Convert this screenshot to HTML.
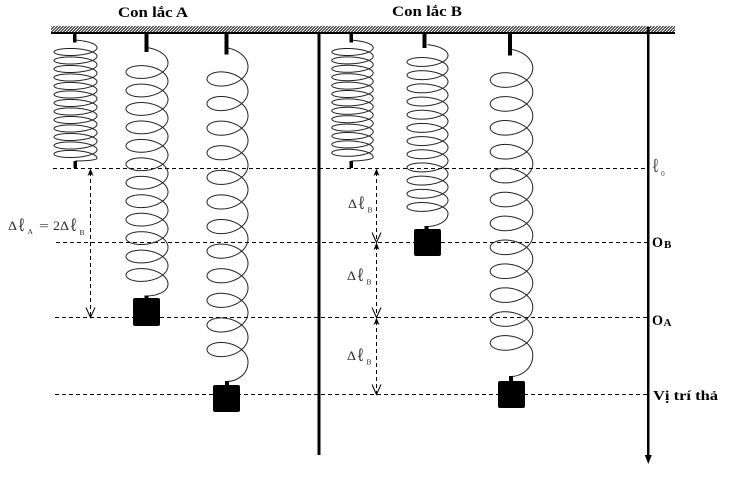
<!DOCTYPE html>
<html><head><meta charset="utf-8"><style>
html,body{margin:0;padding:0;background:#fff;}
svg{display:block;}
text{font-family:"Liberation Serif","DejaVu Serif",serif;}
</style></head><body>
<svg id="s" width="734" height="477" viewBox="0 0 734 477" xmlns="http://www.w3.org/2000/svg">
<defs><clipPath id="hc"><rect x="51" y="26" width="624" height="6.5"/></clipPath></defs>
<rect width="734" height="477" fill="#fff"/>
<!-- ceiling -->
<g id="hatch" stroke="#000" stroke-width="0.9" clip-path="url(#hc)"></g>
<rect x="51" y="32" width="624" height="2" fill="#000"/>

<!-- titles -->
<text x="118" y="17" font-size="15" font-weight="bold" textLength="70" lengthAdjust="spacingAndGlyphs">Con lắc A</text>
<text x="392" y="16" font-size="15" font-weight="bold" textLength="70" lengthAdjust="spacingAndGlyphs">Con lắc B</text>

<!-- center divider and axis -->
<rect x="317.5" y="33" width="3" height="422" fill="#000"/>
<rect x="647" y="27" width="2.5" height="430" fill="#000"/>
<path d="M648.3 464 L644.8 455 L651.8 455 Z" fill="#000"/>

<!-- dashed levels -->
<g stroke="#000" stroke-width="1" stroke-dasharray="4 3" fill="none">
<line x1="53" y1="168.5" x2="647" y2="168.5"/>
<line x1="56" y1="242.5" x2="647" y2="242.5"/>
<line x1="55" y1="317.5" x2="647" y2="317.5"/>
<line x1="55" y1="394.5" x2="647" y2="394.5"/>
<!-- dimension lines -->
<line x1="90.5" y1="172" x2="90.5" y2="316"/>
<line x1="376.5" y1="172" x2="376.5" y2="241"/>
<line x1="376.5" y1="246" x2="376.5" y2="316"/>
<line x1="376.5" y1="321" x2="376.5" y2="393"/>
</g>

<!-- arrowheads -->
<g fill="#000">
<path d="M90.5 168.5 L87.5 176 L90.5 174 L93.5 176 Z"/>
<path d="M376.5 168.5 L373.5 176 L376.5 174 L379.5 176 Z"/>
<path d="M376.5 242.5 L373.5 250 L376.5 248 L379.5 250 Z"/>
<path d="M376.5 317.5 L373.5 325 L376.5 323 L379.5 325 Z"/>
</g>
<g stroke="#000" stroke-width="1" fill="none">
<path d="M86 307.5 L90.5 317.5 L95 307.5"/>
<path d="M372 232.5 L376.5 242.5 L381 232.5"/>
<path d="M372 307.5 L376.5 317.5 L381 307.5"/>
<path d="M372 384.5 L376.5 394.5 L381 384.5"/>
</g>

<!-- springs -->
<g id="springs" fill="none" stroke="#222" stroke-width="1"></g>

<!-- stubs -->
<g fill="#000">
<rect x="73" y="33" width="3.5" height="9.5"/>
<rect x="144.5" y="33" width="4" height="19"/>
<rect x="224.5" y="33" width="4" height="21.5"/>
<rect x="349.5" y="33" width="3.5" height="9.5"/>
<rect x="422.5" y="33" width="4" height="15"/>
<rect x="508" y="33" width="4" height="22.5"/>
<rect x="73.5" y="161" width="3.5" height="7"/>
<rect x="349.5" y="161" width="3.5" height="7"/>
<!-- mass stubs -->
<rect x="144.5" y="295.5" width="4" height="3"/>
<rect x="225" y="381" width="4" height="4.5"/>
<rect x="424.5" y="226" width="4" height="3.5"/>
<rect x="509" y="376" width="4" height="5.5"/>
<!-- masses -->
<rect x="133" y="298" width="27" height="28" rx="2"/>
<rect x="213" y="385" width="27" height="27" rx="2"/>
<rect x="414" y="229" width="27" height="27" rx="2"/>
<rect x="498" y="381" width="27" height="27" rx="2"/>
</g>

<!-- left label: Δℓ_A = 2Δℓ_B -->
<g fill="#2a2a2a">
<text x="8" y="230" font-size="13" textLength="9" lengthAdjust="spacingAndGlyphs">Δ</text>
<text x="18" y="231" font-size="19" textLength="7" lengthAdjust="spacingAndGlyphs">ℓ</text>
<text x="27.5" y="234" font-size="7.5">A</text>
<text x="39" y="230" font-size="13" textLength="10" lengthAdjust="spacingAndGlyphs">=</text>
<text x="53" y="230" font-size="13" textLength="7" lengthAdjust="spacingAndGlyphs">2</text>
<text x="60" y="230" font-size="13" textLength="9" lengthAdjust="spacingAndGlyphs">Δ</text>
<text x="70" y="231" font-size="19" textLength="7" lengthAdjust="spacingAndGlyphs">ℓ</text>
<text x="79.5" y="235" font-size="7.5">B</text>
</g>

<!-- Δℓ_B labels -->
<g fill="#2a2a2a">
<text x="348" y="208" font-size="13" textLength="9" lengthAdjust="spacingAndGlyphs">Δ</text>
<text x="358" y="209" font-size="19" textLength="7" lengthAdjust="spacingAndGlyphs">ℓ</text>
<text x="367.5" y="212.5" font-size="7.5">B</text>
<text x="347" y="280" font-size="13" textLength="9" lengthAdjust="spacingAndGlyphs">Δ</text>
<text x="357" y="281" font-size="19" textLength="7" lengthAdjust="spacingAndGlyphs">ℓ</text>
<text x="366.5" y="284.5" font-size="7.5">B</text>
<text x="347" y="360" font-size="13" textLength="9" lengthAdjust="spacingAndGlyphs">Δ</text>
<text x="357" y="361" font-size="19" textLength="7" lengthAdjust="spacingAndGlyphs">ℓ</text>
<text x="366.5" y="364.5" font-size="7.5">B</text>
</g>

<!-- right labels -->
<text x="652" y="172" font-size="20" fill="#444" textLength="7" lengthAdjust="spacingAndGlyphs">ℓ</text>
<text x="661" y="176" font-size="7.5" fill="#444">0</text>
<text x="652" y="247" font-size="15" font-weight="bold" textLength="11" lengthAdjust="spacingAndGlyphs">O</text>
<text x="664" y="248" font-size="11" font-weight="bold">B</text>
<text x="652" y="325" font-size="15" font-weight="bold" textLength="11" lengthAdjust="spacingAndGlyphs">O</text>
<text x="663.5" y="326" font-size="11" font-weight="bold">A</text>
<text x="653" y="400" font-size="14" font-weight="bold" textLength="65" lengthAdjust="spacingAndGlyphs">Vị trí thả</text>
</svg>
<script>
(function(){
  var NS="http://www.w3.org/2000/svg";
  var h=document.getElementById("hatch");
  for(var x=45;x<680;x+=3){
    var l=document.createElementNS(NS,"line");
    l.setAttribute("x1",x);l.setAttribute("y1",32.5);
    l.setAttribute("x2",x+6.5);l.setAttribute("y2",26);
    h.appendChild(l);
  }
  var sp=[
    {cx:75.5,R:21.5,b:5.5,y0:40.1,p:8.5,K:13,tx:75.25,ty:161},
    {cx:147,R:21,b:10.6,y0:47.6,p:18.45,K:12,tx:146.5,ty:296},
    {cx:227.5,R:20.5,b:12.6,y0:47.9,p:24.6,K:12,tx:227,ty:381.5},
    {cx:352.5,R:20.7,b:5.45,y0:40.25,p:8.4,K:13,tx:351.25,ty:161},
    {cx:427.5,R:20.5,b:7.45,y0:44.65,p:13.18,K:12,tx:426.5,ty:226.5},
    {cx:511.5,R:21.3,b:12.7,y0:49.4,p:23.9,K:12,tx:511,ty:376.5}
  ];
  var g=document.getElementById("springs");
  sp.forEach(function(o){
    var T=2*Math.PI*o.K+Math.PI/2;
    var N=Math.ceil(T/0.04);
    var d="";
    var ex=0,ey=0;
    for(var i=0;i<=N;i++){
      var t=T*i/N;
      ex=o.cx+o.R*Math.sin(t);
      ey=o.y0+o.b-o.b*Math.cos(t)+o.p*t/(2*Math.PI);
      d+=(i===0?"M":" L")+ex.toFixed(2)+" "+ey.toFixed(2);
    }
    var c1y=ey+(o.ty-ey)*0.7;
    var c2x=o.tx+(ex-o.tx)*0.4;
    d+=" C"+ex.toFixed(2)+" "+c1y.toFixed(2)+" "+c2x.toFixed(2)+" "+o.ty+" "+o.tx+" "+o.ty;
    var p=document.createElementNS(NS,"path");
    p.setAttribute("d",d);
    g.appendChild(p);
  });
})();
</script>
</body></html>
